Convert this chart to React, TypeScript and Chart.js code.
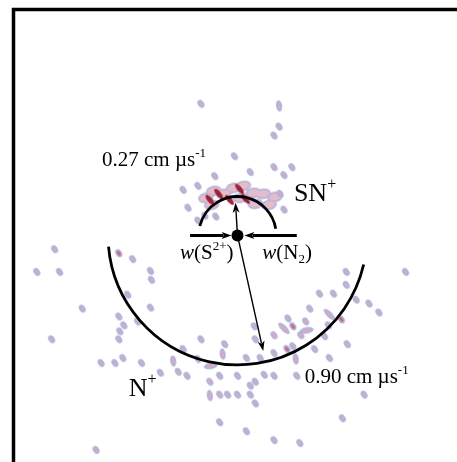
import React, { useEffect, useRef } from "react";
import { Chart, registerables } from "chart.js";

Chart.register(...registerables);

// Velocity-map axes (cm/µs), origin at the centre-of-mass dot
const axisX = [-1.557, 1.491];
const axisY = [-1.54, 1.57];

// Newton-sphere radii (cm/µs)
const ringSpeeds = [0.27, 0.9];
const ringLabels = ["0.27 cm µs", "0.90 cm µs"];

// Arrow tips (cm/µs)
const snArrowTip: [number, number] = [-0.014, 0.227];
const nArrowTip: [number, number] = [0.179, -0.804];
const wS2Start: [number, number] = [-0.33, 0];
const wS2Tip: [number, number] = [-0.041, 0];
const wN2Start: [number, number] = [0.412, 0];
const wN2Tip: [number, number] = [0.048, 0];

// Single-hit spots (vx, vy)
const sparseHits: [number, number][] = [
  [-0.254, 0.914], [0.289, 0.756], [0.254, 0.694], [-0.021, 0.55], [0.089, 0.44],
  [0.254, 0.474], [0.378, 0.474], [-0.158, 0.412], [0.323, 0.419], [-0.378, 0.316],
  [-0.275, 0.344], [0.296, 0.289], [-0.344, 0.192], [0.323, 0.179], [-0.227, 0.137],
  [-0.151, 0.131], [-0.275, 0.103],
  [-1.271, -0.096], [-0.729, -0.165], [-1.395, -0.254], [-1.237, -0.254], [-0.605, -0.247],
  [-0.598, -0.309], [-0.763, -0.412], [-1.079, -0.509], [-0.605, -0.502], [-0.825, -0.564],
  [-0.694, -0.598], [-0.79, -0.625], [-0.818, -0.667], [-0.825, -0.722], [-1.292, -0.722],
  [-0.254, -0.722], [-0.089, -0.756], [-0.378, -0.79], [-0.275, -0.859], [-0.948, -0.887],
  [-0.852, -0.887], [-0.797, -0.852], [-0.667, -0.887], [-0.536, -0.955], [-0.412, -0.948],
  [-0.351, -0.976], [-0.192, -1.017], [-0.124, -0.976], [-0.069, -1.107], [0, -1.107],
  [-0.124, -1.107], [0, -0.976], [0.089, -1.045], [0.124, -1.017], [0.089, -1.107],
  [0.124, -1.168], [-0.124, -1.299], [0.062, -1.361], [0.254, -1.423], [0.433, -1.443],
  [-0.983, -1.491], [0.186, -0.969], [0.254, -0.976], [0.412, -0.976],
  [0.062, -0.852], [0.158, -0.852], [0.254, -0.818], [0.639, -0.852], [0.117, -0.632],
  [0.124, -0.722], [0.254, -0.694], [0.351, -0.577], [0.474, -0.598], [0.44, -0.694],
  [0.385, -0.77], [0.536, -0.79], [0.763, -0.756], [0.605, -0.701], [0.57, -0.405],
  [0.667, -0.405], [0.756, -0.344], [0.756, -0.254], [1.168, -0.254], [0.825, -0.447],
  [0.914, -0.474], [0.983, -0.536], [0.88, -1.107], [0.729, -1.271], [0.502, -0.509],
  [0.632, -0.625],
];
const tallHits: [number, number][] = [
  [0.289, 0.9], [-0.447, -0.873], [-0.192, -1.113], [-0.103, -0.825], [0.405, -0.859],
];
const streakHits: [number, number][] = [[0.323, -0.646], [0.639, -0.55]];
const flatHits: [number, number][] = [[-0.186, -0.907], [0.481, -0.66]];
const hotHits: [number, number][] = [
  [-0.825, -0.124], [0.385, -0.632], [0.344, -0.79], [0.722, -0.584],
];
// SN+ cluster
const snCluster: [number, number][] = [
  [-0.22, 0.261], [-0.165, 0.309], [-0.096, 0.289], [-0.027, 0.33], [0.041, 0.344],
  [0.11, 0.296], [0.179, 0.289], [0.261, 0.268], [0.22, 0.213], [0.124, 0.22],
  [-0.179, 0.213], [0.021, 0.261],
];
const snHotSpots: [number, number][] = [
  [-0.131, 0.289], [0.014, 0.323], [0.055, 0.254], [-0.055, 0.247], [-0.192, 0.247],
];

function blob(rx: number, ry: number, outer: string, inner?: string, irx = 0, iry = 0) {
  const c = document.createElement("canvas");
  c.width = Math.ceil(rx * 2 + 2);
  c.height = Math.ceil(ry * 2 + 2);
  const g = c.getContext("2d")!;
  g.fillStyle = outer;
  g.beginPath();
  g.ellipse(c.width / 2, c.height / 2, rx, ry, 0, 0, Math.PI * 2);
  g.fill();
  if (inner) {
    g.fillStyle = inner;
    g.beginPath();
    g.ellipse(c.width / 2, c.height / 2, irx, iry, 0, 0, Math.PI * 2);
    g.fill();
  }
  return c;
}

const toXY = (a: [number, number][]) => a.map(([x, y]) => ({ x, y }));

type Run = { t: string; size: number; italic?: boolean; dy?: number };
function drawRich(ctx: CanvasRenderingContext2D, x: number, y: number, runs: Run[]) {
  let cx = x;
  for (const r of runs) {
    ctx.font = `${r.italic ? "italic " : ""}${r.size}px "Liberation Serif", "DejaVu Serif", serif`;
    ctx.fillText(r.t, cx, y + (r.dy || 0));
    cx += ctx.measureText(r.t).width;
  }
}

function arrow(
  ctx: CanvasRenderingContext2D,
  x1: number, y1: number, x2: number, y2: number,
  lw: number, hl: number, hw: number
) {
  const a = Math.atan2(y2 - y1, x2 - x1);
  const bx = x2 - Math.cos(a) * hl * 0.8;
  const by = y2 - Math.sin(a) * hl * 0.8;
  ctx.lineWidth = lw;
  ctx.beginPath();
  ctx.moveTo(x1, y1);
  ctx.lineTo(bx, by);
  ctx.stroke();
  ctx.beginPath();
  ctx.moveTo(x2, y2);
  ctx.lineTo(x2 - Math.cos(a) * hl - Math.sin(a) * hw, y2 - Math.sin(a) * hl + Math.cos(a) * hw);
  ctx.lineTo(x2 - Math.cos(a) * hl * 0.75, y2 - Math.sin(a) * hl * 0.75);
  ctx.lineTo(x2 - Math.cos(a) * hl + Math.sin(a) * hw, y2 - Math.sin(a) * hl - Math.cos(a) * hw);
  ctx.closePath();
  ctx.fill();
}

const annotations = {
  id: "annotations",
  afterDatasetsDraw(chart: any) {
    const { ctx, chartArea, scales } = chart;
    const X = (v: number) => scales.x.getPixelForValue(v);
    const Y = (v: number) => scales.y.getPixelForValue(v);
    const ox = X(0);
    const oy = Y(0);
    const ppu = X(1) - X(0);
    const deg = (d: number) => (d * Math.PI) / 180;
    ctx.save();
    ctx.strokeStyle = "#000";
    ctx.fillStyle = "#000";
    // frame
    ctx.lineWidth = 3.5;
    ctx.beginPath();
    ctx.moveTo(chartArea.left, chartArea.bottom + 10);
    ctx.lineTo(chartArea.left, chartArea.top);
    ctx.lineTo(chartArea.right + 10, chartArea.top);
    ctx.stroke();
    // rings
    ctx.lineWidth = 2.8;
    ctx.beginPath();
    ctx.arc(ox, oy, ringSpeeds[0] * ppu, deg(194), deg(350));
    ctx.stroke();
    ctx.beginPath();
    ctx.arc(ox, oy, ringSpeeds[1] * ppu, deg(13), deg(175));
    ctx.stroke();
    // w arrows
    arrow(ctx, X(wS2Start[0]), Y(wS2Start[1]), X(wS2Tip[0]), Y(wS2Tip[1]), 3, 10, 3.5);
    arrow(ctx, X(wN2Start[0]), Y(wN2Start[1]), X(wN2Tip[0]), Y(wN2Tip[1]), 3, 10, 3.5);
    // velocity arrows
    arrow(ctx, ox, oy, X(snArrowTip[0]), Y(snArrowTip[1]), 1.4, 10, 3.5);
    arrow(ctx, ox, oy, X(nArrowTip[0]), Y(nArrowTip[1]), 1.4, 10, 3.5);
    // origin dot
    ctx.beginPath();
    ctx.arc(ox, oy, 6, 0, Math.PI * 2);
    ctx.fill();
    // labels
    ctx.textBaseline = "alphabetic";
    drawRich(ctx, X(-0.942), Y(0.481), [
      { t: ringLabels[0], size: 21 },
      { t: "-1", size: 13, dy: -9 },
    ]);
    drawRich(ctx, X(0.467), Y(-1.024), [
      { t: ringLabels[1], size: 21 },
      { t: "-1", size: 13, dy: -9 },
    ]);
    drawRich(ctx, X(0.392), Y(0.241), [
      { t: "SN", size: 26 },
      { t: "+", size: 16, dy: -12 },
    ]);
    drawRich(ctx, X(-0.756), Y(-1.113), [
      { t: "N", size: 26 },
      { t: "+", size: 16, dy: -12 },
    ]);
    drawRich(ctx, X(-0.399), Y(-0.165), [
      { t: "w", size: 21, italic: true },
      { t: "(S", size: 21 },
      { t: "2+", size: 13, dy: -9 },
      { t: ")", size: 21 },
    ]);
    drawRich(ctx, X(0.172), Y(-0.165), [
      { t: "w", size: 21, italic: true },
      { t: "(N", size: 21 },
      { t: "2", size: 13, dy: 4 },
      { t: ")", size: 21 },
    ]);
    ctx.restore();
  },
};

export default function App() {
  const ref = useRef<HTMLCanvasElement | null>(null);
  useEffect(() => {
    if (!ref.current) return;
    const lav = "#aeb2de";
    const pink = "#d8aabb";
    const small = blob(3, 4.2, lav, pink, 1.4, 2.5);
    const tall = blob(3, 5.8, lav, pink, 1.4, 3.8);
    const streak = blob(2.9, 7.5, lav, pink, 1.3, 5.5);
    const flat = blob(7, 3.2, lav, pink, 5, 1.5);
    const hot = blob(3, 4.4, lav, "#d0647c", 1.5, 2.7);
    const halo = blob(7.8, 5.2, "#b3b3de");
    const core = blob(6.2, 3.6, "#e6bcc8");
    const spot = blob(2.4, 6.2, "#9c2236");

    const base = { showLine: false, pointRotation: -35 };
    const chart = new Chart(ref.current, {
      type: "scatter",
      data: {
        datasets: [
          { ...base, data: toXY(snHotSpots), pointStyle: spot, pointRotation: -40, order: 1 },
          { ...base, data: toXY(snCluster), pointStyle: core, pointRotation: -10, order: 2 },
          { ...base, data: toXY(snCluster), pointStyle: halo, pointRotation: -10, order: 3 },
          { ...base, data: toXY(hotHits), pointStyle: hot, order: 1 },
          { ...base, data: toXY(sparseHits), pointStyle: small, order: 1 },
          { ...base, data: toXY(tallHits), pointStyle: tall, pointRotation: -8, order: 1 },
          { ...base, data: toXY(streakHits), pointStyle: streak, pointRotation: -45, order: 1 },
          { ...base, data: toXY(flatHits), pointStyle: flat, pointRotation: -10, order: 1 },
        ] as any,
      },
      options: {
        animation: false,
        responsive: true,
        maintainAspectRatio: false,
        events: [],
        layout: { padding: { left: 13.5, top: 9.5, right: 0, bottom: 0 } },
        plugins: { legend: { display: false }, tooltip: { enabled: false } },
        scales: {
          x: { type: "linear", display: false, min: axisX[0], max: axisX[1] },
          y: { type: "linear", display: false, min: axisY[0], max: axisY[1] },
        },
      },
      plugins: [annotations],
    });
    return () => chart.destroy();
  }, []);
  return (
    <div style={{ position: "fixed", left: 0, top: 0, width: 457, height: 462, background: "#fff" }}>
      <canvas ref={ref} />
    </div>
  );
}
